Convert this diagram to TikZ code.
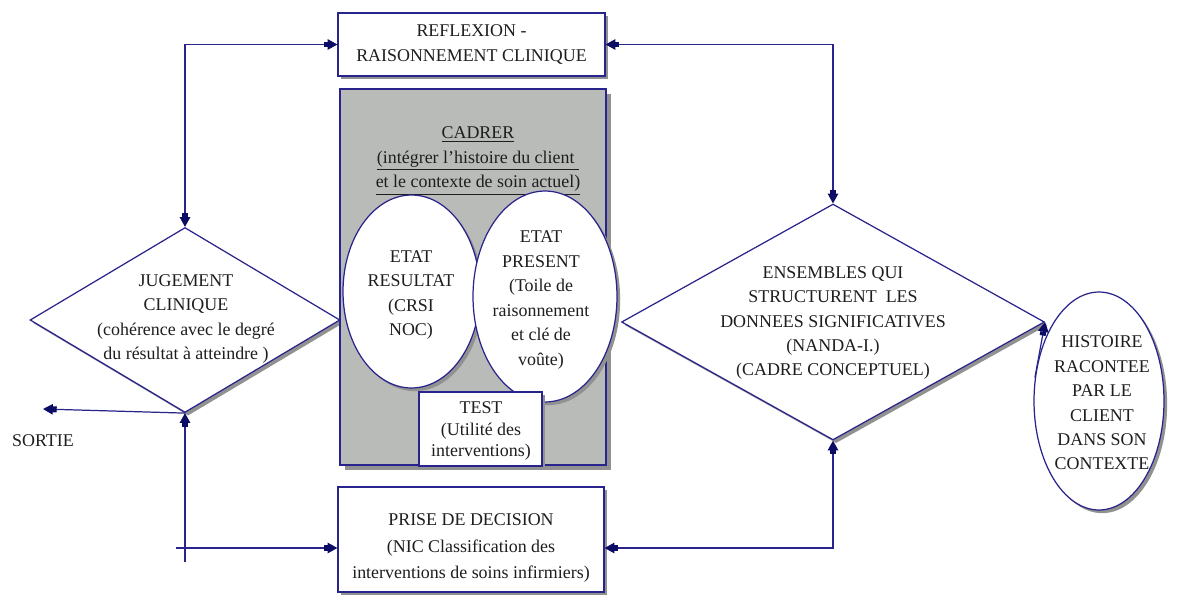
\documentclass[tikz,border=0pt]{standalone}
\usepackage{fontspec}
\setmainfont{Liberation Serif}
\usetikzlibrary{arrows.meta,shapes.geometric,shadows}
\definecolor{navy}{RGB}{40,36,140}
\definecolor{tipc}{RGB}{12,12,100}
\definecolor{cadgray}{RGB}{184,187,184}
\definecolor{shad}{RGB}{145,145,145}
\definecolor{txtc}{RGB}{30,30,30}
\tikzset{
  navytip/.tip={Rectangle[length=2.2pt,width=3.4pt,color=tipc] Triangle[length=5.6pt,width=6pt,color=tipc]},
  shp/.style={draw=navy, line width=0.7pt, fill=white, inner sep=0pt,
    drop shadow={shadow xshift=1.8pt, shadow yshift=-1.8pt, fill=shad, opacity=1}},
  boxr/.style={shp, rectangle},
  ell/.style={shp, ellipse},
  dia/.style={shp, diamond},
  txt/.style={align=center, inner sep=0pt},
  conn/.style={draw=navy, line width=0.7pt},
}
\begin{document}
\begin{tikzpicture}[x=0.02cm,y=-0.02cm,
  every node/.style={font=\fontsize{10.2}{13.9}\selectfont, text=txtc}]
\useasboundingbox (0,0) rectangle (1183,602);

% diamonds
\node[dia, minimum width=6.2cm, minimum height=3.7cm] (jug) at (185,320) {};
\node[txt] (jugt) at (186,319) {JUGEMENT\\CLINIQUE\\(cohérence avec le degré\\du résultat à atteindre )};

\node[dia, minimum width=8.46cm, minimum height=4.72cm] (ens) at (833,322) {};
\node[txt] (enst) at (833,323) {ENSEMBLES QUI\\STRUCTURENT\ \ LES\\DONNEES SIGNIFICATIVES\\(NANDA-I.)\\(CADRE CONCEPTUEL)};

% top box
\node[boxr, minimum width=5.34cm, minimum height=1.26cm, align=center] (refl) at (471.5,44.5) {REFLEXION -\\RAISONNEMENT CLINIQUE};

% cadrer box
\node[rectangle, draw=navy, line width=0.7pt, fill=cadgray, minimum width=5.32cm, minimum height=7.52cm,
  drop shadow={shadow xshift=3pt, shadow yshift=-3pt, fill=shad, opacity=1}] (cad) at (473,277) {};
\node[txt] (cadt) at (478,161) {\underline{CADRER}\\\underline{(intégrer l'histoire du client\ }\\\underline{et le contexte de soin actuel)}};

% ellipses in cadrer
\node[ell, minimum width=2.74cm, minimum height=3.86cm] (res) at (411.5,291.5) {};
\node[txt] (rest) at (411,295) {ETAT\\RESULTAT\\(CRSI\\NOC)};
\node[ell, minimum width=2.88cm, minimum height=4.22cm] (pres) at (545,296.5) {};
\node[txt] (prest) at (541,300) {ETAT\\PRESENT\\(Toile de\\raisonnement\\et clé de\\voûte)};

% test box
\node[boxr, minimum width=2.46cm, minimum height=1.48cm] (test) at (480.5,429) {};
\node[txt, font=\fontsize{10.2}{12.3}\selectfont] (testt) at (481,431) {TEST\\(Utilité des\\interventions)};

% prise de decision
\node[boxr, minimum width=5.32cm, minimum height=2.1cm] (prise) at (471,539.5) {};
\node[txt, font=\fontsize{10.2}{15}\selectfont] (priset) at (471,548) {PRISE DE DECISION\\(NIC Classification des\\interventions de soins infirmiers)};

% histoire
\node[ell, minimum width=2.6cm, minimum height=4.36cm] (hist) at (1099,401) {};
\node[txt] (histt) at (1102,403) {HISTOIRE\\RACONTEE\\PAR LE\\CLIENT\\DANS SON\\CONTEXTE};

% sortie
\node[txt] (sortie) at (43,441) {SORTIE};

% connectors
\coordinate (bl) at (176,548);
\coordinate (vb) at (185,562);
\coordinate (so) at (43,409);
\draw[conn,{navytip}-{navytip}] (refl.west) -| (jug.north);
\draw[conn,{navytip}-{navytip}] (refl.east) -| (ens.north);
\draw[conn,{navytip}-{navytip}] (prise.east |- bl) -| (ens.south);
\draw[conn,-{navytip}] (bl) -- (prise.west |- bl);
\draw[conn,-{navytip}] (vb) -- (jug.south);
\draw[conn,-{navytip}] (jug.south) -- (so);
\draw[conn,-{navytip}] (hist.160) -- (ens.east);
\end{tikzpicture}
\end{document}
